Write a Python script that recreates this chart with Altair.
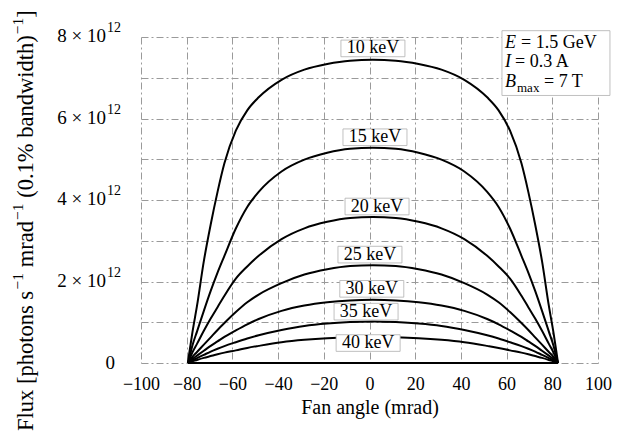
import altair as alt
import pandas as pd

# Fan angle sample points (mrad)
fan_angle = [-79.5, -78.5, -77.5, -75.5, -72.5, -69.5, -66.5, -63.5, -58.5, -53.5, -48.5,
             -38.5, -28.5, -18.5, -8.5, 1.5, 11.5, 21.5, 31.5, 41.5, 51.5, 56.5, 61.5,
             66.5, 69.5, 72.5, 75.5, 78.5, 80.5, 81.5, 82.5]

# Flux values in units of 1e12 photons/s/mrad/0.1%BW
flux_10 = [0, 0.38, 0.75, 1.4, 2.5, 3.4, 4.2, 4.9, 5.7, 6.2, 6.52, 6.95, 7.2, 7.34, 7.42, 7.44,
           7.42, 7.34, 7.2, 6.95, 6.52, 6.2, 5.7, 4.9, 4.2, 3.4, 2.5, 1.4, 0.75, 0.38, 0]
flux_15 = [0, 0.21, 0.43, 0.77, 1.28, 1.77, 2.22, 2.63, 3.3, 3.83, 4.2, 4.7, 4.99, 5.16, 5.256, 5.28,
           5.256, 5.16, 4.99, 4.7, 4.2, 3.83, 3.3, 2.63, 2.22, 1.77, 1.28, 0.77, 0.43, 0.21, 0]
flux_20 = [0, 0.13, 0.26, 0.47, 0.79, 1.09, 1.37, 1.65, 2.07, 2.37, 2.63, 3.04, 3.305, 3.464, 3.557, 3.58,
           3.557, 3.464, 3.305, 3.04, 2.63, 2.37, 2.07, 1.65, 1.37, 1.09, 0.79, 0.47, 0.26, 0.13, 0]
flux_25 = [0, 0.075, 0.15, 0.27, 0.45, 0.63, 0.81, 0.98, 1.25, 1.49, 1.68, 1.96, 2.17, 2.3, 2.38, 2.4,
           2.38, 2.3, 2.17, 1.96, 1.68, 1.49, 1.25, 0.98, 0.81, 0.63, 0.45, 0.27, 0.15, 0.075, 0]
flux_30 = [0, 0.05, 0.1, 0.18, 0.3, 0.42, 0.53, 0.64, 0.8, 0.95, 1.08, 1.28, 1.41, 1.49, 1.535, 1.55,
           1.535, 1.49, 1.41, 1.28, 1.08, 0.95, 0.8, 0.64, 0.53, 0.42, 0.3, 0.18, 0.1, 0.05, 0]
flux_35 = [0, 0.032, 0.065, 0.12, 0.2, 0.28, 0.35, 0.415, 0.51, 0.6, 0.68, 0.81, 0.91, 0.97, 1.005, 1.02,
           1.005, 0.97, 0.91, 0.81, 0.68, 0.6, 0.51, 0.415, 0.35, 0.28, 0.2, 0.12, 0.065, 0.032, 0]
flux_40 = [0, 0.02, 0.04, 0.075, 0.125, 0.17, 0.215, 0.255, 0.31, 0.37, 0.42, 0.51, 0.57, 0.61, 0.632, 0.64,
           0.632, 0.61, 0.57, 0.51, 0.42, 0.37, 0.31, 0.255, 0.215, 0.17, 0.125, 0.075, 0.04, 0.02, 0]
flux_base = [0] * len(fan_angle)

energies = ["10 keV", "15 keV", "20 keV", "25 keV", "30 keV", "35 keV", "40 keV", "high"]
curves = [flux_10, flux_15, flux_20, flux_25, flux_30, flux_35, flux_40, flux_base]

# Curve labels (position in data units)
label_text = ["10 keV", "15 keV", "20 keV", "25 keV", "30 keV", "35 keV", "40 keV"]
label_x = [1.5, 2.4, 3.3, 0.2, 1.0, -1.5, -0.6]
label_y = [7.72, 5.54, 3.84, 2.66, 1.82, 1.26, 0.49]

# Y tick labels (mantissa x 10^12)
ytick_vals = [2, 4, 6, 8]
ytick_base = ["2 \u00d7 10", "4 \u00d7 10", "6 \u00d7 10", "8 \u00d7 10"]
ytick_exp = ["12", "12", "12", "12"]

# Axis title pieces
title_pieces = ["Flux [photons s", "\u22121", "mrad", "\u22121", "(0.1% bandwidth)", "\u22121", "]"]

# Parameter annotation
param_sym = ["E", "I", "B"]
param_rest = ["= 1.5 GeV", "= 0.3 A", "= 7 T"]
param_x = 59.3
param_y = [7.86, 7.38, 6.9]
param_box_x = 81.6
param_box_y = 7.36

rows = []
for name, vals in zip(energies, curves):
    for a, v in zip(fan_angle, vals):
        rows.append({"energy": name, "angle": a, "flux": v})
df = pd.DataFrame(rows)

FONT = "Liberation Serif"
xscale = alt.Scale(domain=[-100, 100], nice=False)
yscale = alt.Scale(domain=[0, 8], nice=False)
GRID = dict(grid=True, gridColor="#9a9a9a", gridDash=[7, 3, 2, 3], gridWidth=1)

x_axis = alt.Axis(
    values=list(range(-100, 101, 10)),
    labelExpr="datum.value % 20 == 0 ? replace(format(datum.value, 'd'), '-', '\u2212') : ''",
    title="Fan angle (mrad)", titleFont=FONT, titleFontSize=20, titleFontWeight="normal",
    titleY=44, titleBaseline="middle", titleColor="black",
    labelFont=FONT, labelFontSize=18, labelColor="black", labelPadding=12,
    ticks=False, domain=False, labelFlush=False, labelOverlap=False, **GRID,
)
y_axis = alt.Axis(
    values=list(range(0, 9)), labels=False, title="",
    ticks=False, domain=False, **GRID,
)

base_lines = alt.Chart(df).mark_line(
    color="black", strokeWidth=2, interpolate="monotone"
).encode(
    x=alt.X("angle:Q", scale=xscale, axis=x_axis),
    y=alt.Y("flux:Q", scale=yscale, axis=y_axis),
    detail="energy:N",
)

# y tick labels drawn as text so the exponent can be raised
yt_df = pd.DataFrame({"v": ytick_vals, "base": ytick_base, "exp": ytick_exp})
yt_base = alt.Chart(yt_df).mark_text(
    font=FONT, fontSize=19, color="black", align="right", baseline="middle", dy=-1
).encode(x=alt.value(-35), y=alt.Y("v:Q", scale=yscale), text="base:N")
yt_exp = alt.Chart(yt_df).mark_text(
    font=FONT, fontSize=14, color="black", align="left", baseline="middle", dy=-9
).encode(x=alt.value(-34), y=alt.Y("v:Q", scale=yscale), text="exp:N")
zero_df = pd.DataFrame({"v": [0], "t": ["0"]})
yt_zero = alt.Chart(zero_df).mark_text(
    font=FONT, fontSize=19, color="black", align="right", baseline="middle"
).encode(x=alt.value(-26), y=alt.Y("v:Q", scale=yscale), text="t:N")

# rotated y-axis title built from pieces
title_layers = []
offsets = [0, 141.4, 163.7, 210.9, 233.2, 396.7, 413.3]
sup = [False, True, False, True, False, True, False]
for txt, off, s in zip(title_pieces, offsets, sup):
    tdf = pd.DataFrame({"t": [txt]})
    title_layers.append(
        alt.Chart(tdf).mark_text(
            font=FONT, fontSize=15.5 if s else 22.5, color="black", align="left", baseline="middle",
            angle=270, dx=off, dy=-8 if s else 0,
        ).encode(x=alt.value(-115), y=alt.value(394), text="t:N")
    )

lab_df = pd.DataFrame({"label": label_text, "x": label_x, "y": label_y})
boxes = alt.Chart(lab_df).mark_point(
    shape="M-1,-0.26H1V0.26H-1Z", size=64 * 64, filled=True, fill="white",
    stroke="#b0b0b0", strokeWidth=0.8, opacity=1,
).encode(x=alt.X("x:Q", scale=xscale), y=alt.Y("y:Q", scale=yscale))
labels = alt.Chart(lab_df).mark_text(
    font=FONT, fontSize=18, color="black", align="center", baseline="middle"
).encode(x=alt.X("x:Q", scale=xscale), y=alt.Y("y:Q", scale=yscale), text="label:N")

box_df = pd.DataFrame({"x": [param_box_x], "y": [param_box_y]})
pbox = alt.Chart(box_df).mark_point(
    shape="M-1,-0.6H1V0.6H-1Z", size=108 * 108, filled=True, fill="white",
    stroke="#b0b0b0", strokeWidth=0.8, opacity=1, clip=False,
).encode(x=alt.X("x:Q", scale=xscale), y=alt.Y("y:Q", scale=yscale))

par_df = pd.DataFrame({"sym": param_sym, "rest": param_rest, "x": [param_x] * 3, "y": param_y})
sym_txt = alt.Chart(par_df).mark_text(
    font=FONT, fontSize=18, fontStyle="italic", color="black", align="left", baseline="middle"
).encode(x=alt.X("x:Q", scale=xscale), y=alt.Y("y:Q", scale=yscale), text="sym:N")

rest_layers = []
for i, dx in enumerate([16, 10, 39]):
    rest_layers.append(
        alt.Chart(par_df.iloc[[i]]).mark_text(
            font=FONT, fontSize=18, color="black", align="left", baseline="middle", dx=dx
        ).encode(x=alt.X("x:Q", scale=xscale), y=alt.Y("y:Q", scale=yscale), text="rest:N")
    )
sub_df = pd.DataFrame({"t": ["max"], "x": [param_x], "y": [param_y[2]]})
sub_txt = alt.Chart(sub_df).mark_text(
    font=FONT, fontSize=13, color="black", align="left", baseline="middle", dx=12, dy=6
).encode(x=alt.X("x:Q", scale=xscale), y=alt.Y("y:Q", scale=yscale), text="t:N")

chart = alt.layer(
    base_lines, boxes, labels, pbox, sym_txt, *rest_layers, sub_txt,
    yt_base, yt_exp, yt_zero, *title_layers
).properties(
    width=457, height=326,
    autosize=alt.AutoSizeParams(type="none"),
    padding={"left": 133, "top": 29, "right": 25, "bottom": 71},
).configure_view(strokeWidth=0)

chart.save("out.html", embed_options={"renderer": "svg", "actions": False})
